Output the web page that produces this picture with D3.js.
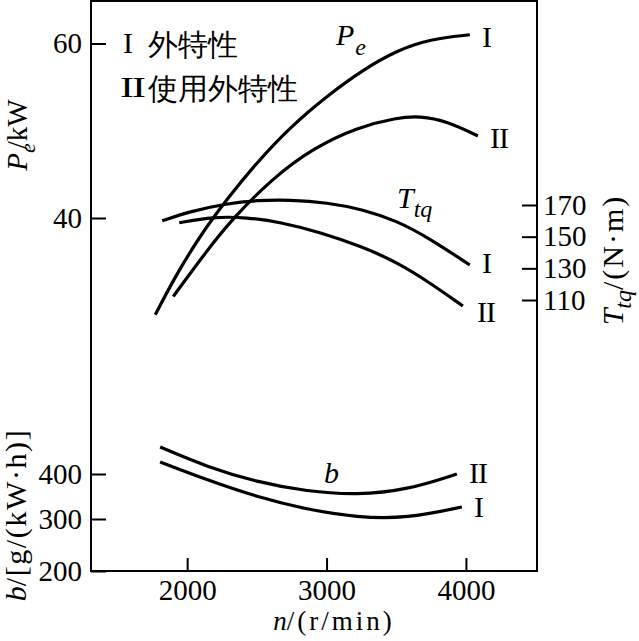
<!DOCTYPE html>
<html>
<head>
<meta charset="utf-8">
<script src="https://cdn.jsdelivr.net/npm/d3@7/dist/d3.min.js"></script>
<style>
  html, body { margin: 0; padding: 0; background: #fff; }
  svg { display: block; }
  text { font-family: "Liberation Serif", "Times New Roman", serif; fill: #000; }
</style>
</head>
<body>
<svg id="chart" width="639" height="641"></svg>
<script>
// ---- data ----
const xTicks = [2000, 3000, 4000];
const peTicks = [40, 60];
const ttqTicks = [110, 130, 150, 170];
const bTicks = [200, 300, 400];

// Pe (kW)
const peI_rpm = [1771, 1900, 2093, 2287, 2502, 2738, 3004, 3262, 3505, 3742, 4028];
const peI_val = [28.9, 32.9, 38.0, 42.2, 46.4, 50.4, 54.0, 57.0, 59.2, 60.5, 61.0];
const peII_rpm = [1900, 2143, 2330, 2616, 2903, 3219, 3505, 3670, 3864, 4086];
const peII_val = [31.0, 36.3, 40.0, 44.6, 48.0, 50.4, 51.5, 51.7, 51.1, 49.4];

// Ttq (N·m)
const ttqI_rpm = [1821, 2022, 2287, 2502, 2738, 3004, 3262, 3505, 3742, 4028];
const ttqI_val = [160.0, 166.0, 171.0, 173.0, 173.3, 171.5, 167.2, 160.0, 148.8, 132.1];
const ttqII_rpm = [1943, 2186, 2430, 2667, 2953, 3262, 3505, 3742, 3978];
const ttqII_val = [158.8, 162.6, 162.2, 159.2, 152.8, 143.5, 133.8, 120.9, 106.2];

// b (g/(kW·h))
const bI_rpm = [1806, 2143, 2502, 2860, 3219, 3577, 3971];
const bI_val = [426.7, 386.7, 348.9, 321.1, 303.3, 301.1, 326.7];
const bII_rpm = [1806, 2143, 2502, 2860, 3219, 3577, 3935];
const bII_val = [460.0, 415.6, 382.2, 361.1, 353.3, 364.4, 400.0];

const legendNums = ["I", "II"];
const legendTexts = ["外特性", "使用外特性"];

// ---- layout ----
const svg = d3.select("#chart");
const L = 91, R = 537, T = 1, B = 571;
const FS = 29;
const SERIF = '"Liberation Serif", "Times New Roman", serif';

const x = d3.scaleLinear().domain([1310, 4510]).range([L, R]);
const yPe = d3.scaleLinear().domain([40, 60]).range([218, 43.5]);
const yT = d3.scaleLinear().domain([110, 170]).range([300, 205]);
const yB = d3.scaleLinear().domain([200, 300, 400]).range([B, 519, 474]);

// frame
svg.append("rect").attr("x", L).attr("y", T).attr("width", R - L).attr("height", B - T)
  .attr("fill", "none").attr("stroke", "#000").attr("stroke-width", 2);

function styleAxis(g) {
  g.select(".domain").remove();
  g.selectAll(".tick line").attr("stroke", "#000").attr("stroke-width", 2);
  g.selectAll(".tick text").attr("font-size", FS)
    .attr("font-family", SERIF).attr("fill", "#000");
}

svg.append("g").attr("transform", `translate(0,${B})`)
  .call(d3.axisBottom(x).tickValues(xTicks).tickSize(-13).tickPadding(8).tickFormat(d3.format("d")))
  .call(styleAxis);
svg.append("g").attr("transform", `translate(${L},0)`)
  .call(d3.axisLeft(yPe).tickValues(peTicks).tickSize(-15).tickPadding(9).tickFormat(d3.format("d")))
  .call(styleAxis);
svg.append("g").attr("transform", `translate(${L},0)`)
  .call(d3.axisLeft(yB).tickValues(bTicks).tickSize(-15).tickPadding(9).tickFormat(d3.format("d")))
  .call(styleAxis);
svg.append("g").attr("transform", `translate(${R},0)`)
  .call(d3.axisRight(yT).tickValues(ttqTicks).tickSize(-15).tickPadding(6).tickFormat(d3.format("d")))
  .call(styleAxis);

// curves
function drawCurve(xs, vs, yScale) {
  const pts = xs.map((r, i) => [r, vs[i]]);
  const line = d3.line().x(d => x(d[0])).y(d => yScale(d[1])).curve(d3.curveBasis);
  svg.append("path").datum(pts).attr("d", line)
    .attr("fill", "none").attr("stroke", "#000").attr("stroke-width", 3.2);
}
drawCurve(peI_rpm, peI_val, yPe);
drawCurve(peII_rpm, peII_val, yPe);
drawCurve(ttqI_rpm, ttqI_val, yT);
drawCurve(ttqII_rpm, ttqII_val, yT);
drawCurve(bI_rpm, bI_val, yB);
drawCurve(bII_rpm, bII_val, yB);

// text with tspans: each part {t, i (italic), fs, dy, dx, ls}
function richText(g, parts, anchor) {
  const t = g.append("text").attr("text-anchor", anchor || "start");
  parts.forEach(p => {
    const s = t.append("tspan").text(p.t).attr("font-size", p.fs || FS);
    if (p.i) s.attr("font-style", "italic");
    if (p.dy) s.attr("dy", p.dy);
    if (p.dx) s.attr("dx", p.dx);
    if (p.ls) s.attr("letter-spacing", p.ls);
  });
  return t;
}

// curve labels (roman numerals)
function roman(txt, px, py) {
  svg.append("text").attr("x", px).attr("y", py).attr("font-size", 30)
    .attr("letter-spacing", txt.length > 1 ? -1 : 0).text(txt);
}
roman("I", 482, 47);
roman("II", 490, 148);
roman("I", 482, 273);
roman("II", 477, 322);
roman("II", 469, 483);
roman("I", 474, 517);

// series name labels
richText(svg.append("g").attr("transform", "translate(336,45)"),
  [{t: "P", i: true, fs: 30}, {t: "e", i: true, fs: 24, dy: 10, dx: 1}]);
richText(svg.append("g").attr("transform", "translate(397,208)"),
  [{t: "T", i: true, fs: 30}, {t: "tq", i: true, fs: 24, dy: 9}]);
svg.append("text").attr("x", 324).attr("y", 483).attr("font-size", 30)
  .attr("font-style", "italic").text("b");

// legend
legendNums.forEach((n, i) => {
  const yy = 53 + i * 44;
  if (n === "I") {
    svg.append("text").attr("x", 123).attr("y", yy).attr("font-size", 30).text(n);
  } else {
    svg.append("text").attr("transform", `translate(120,${yy}) scale(1.4,1)`)
      .attr("font-size", 30).attr("letter-spacing", -1.5).text(n);
  }
  svg.append("text").attr("x", 148).attr("y", yy + 2).attr("font-size", 30)
    .attr("font-family", '"Noto Sans CJK SC", sans-serif').text(legendTexts[i]);
});

// axis titles
richText(svg.append("g").attr("transform", "translate(27,135) rotate(-90)"),
  [{t: "P", i: true, fs: 29}, {t: "e", i: true, fs: 22, dy: 8}, {t: "/kW", fs: 29, dy: -8, dx: -6}], "middle");

richText(svg.append("g").attr("transform", "translate(26,515) rotate(-90)"),
  [{t: "b", i: true, fs: 30}, {t: "/[g/(kW·h)]", fs: 30, ls: 1.6}], "middle");

richText(svg.append("g").attr("transform", "translate(623,260) rotate(-90)"),
  [{t: "T", i: true, fs: 30}, {t: "tq", i: true, fs: 24, dy: 8}, {t: "/(N·m)", fs: 30, dy: -8, ls: 2}], "middle");

richText(svg.append("g").attr("transform", "translate(334,630)"),
  [{t: "n", i: true, fs: 27}, {t: "/(r/min)", fs: 27, ls: 3}], "middle");
</script>
</body>
</html>
